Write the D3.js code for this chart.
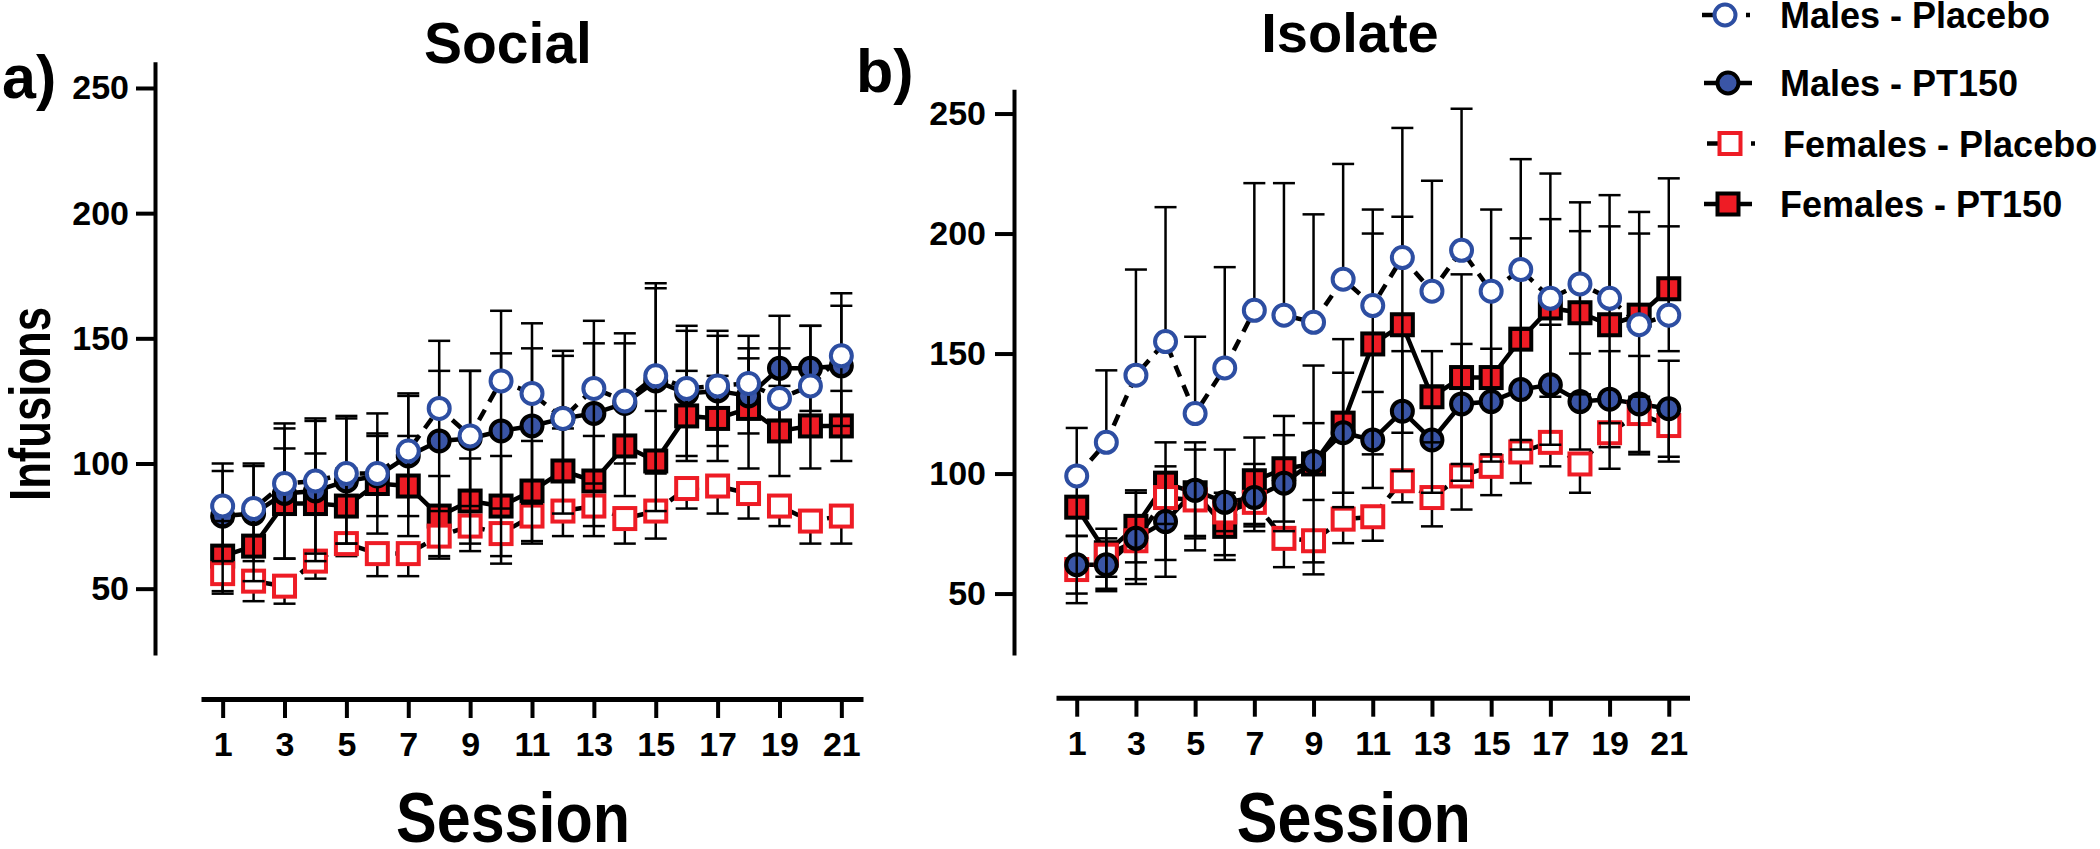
<!DOCTYPE html>
<html>
<head>
<meta charset="utf-8">
<script src="https://cdn.jsdelivr.net/npm/d3@7"></script>
<style>
  html, body { margin: 0; padding: 0; background: #fff; }
  svg { display: block; font-family: Arial, "Liberation Sans", Helvetica, sans-serif; font-weight: bold; }
</style>
</head>
<body>
<svg id="chart" width="2100" height="849"></svg>
<script>
'use strict';

// ---- data -------------------------------------------------------------
var sessions = d3.range(1, 22);
var sessionTicks = [1, 3, 5, 7, 9, 11, 13, 15, 17, 19, 21];
var infusionTicks = [50, 100, 150, 200, 250];
var seriesNames = ['Males - Placebo', 'Males - PT150', 'Females - Placebo', 'Females - PT150'];

// a) Social
var socialMalePlacebo = [83, 82, 92, 93, 96, 96, 105, 122, 111, 133, 128, 118, 130, 125, 135, 130, 131, 132, 126, 131, 143];
var socialMalePlaceboSem = [17, 18, 24, 25, 23, 24, 23, 27, 26, 28, 28, 27, 27, 27, 37, 25, 22, 19, 20, 24, 25];
var socialMalePT150 = [79, 80, 88, 89, 93, 95, 103, 109, 110, 113, 115, 118, 120, 124, 133, 128, 129, 127, 138, 138, 139];
var socialMalePT150Sem = [18, 19, 26, 28, 25, 16, 24, 28, 27, 31, 31, 25, 28, 24, 37, 25, 22, 15, 21, 17, 24];
var socialFemalePlacebo = [56, 53, 51, 61, 68, 64, 64, 71, 75, 72, 79, 81, 83, 78, 81, 90, 91, 88, 83, 77, 79];
var socialFemalePlaceboSem = [8, 8, 7, 7, 5, 9, 9, 9, 10, 12, 11, 10, 12, 10, 11, 8, 11, 10, 8, 9, 11];
var socialFemalePT150 = [63, 67, 84, 84, 83, 92, 91, 79, 85, 83, 89, 97, 93, 107, 101, 119, 118, 122, 113, 115, 115];
var socialFemalePT150Sem = [14, 14, 22, 20, 15, 20, 20, 16, 17, 20, 20, 17, 18, 20, 20, 18, 17, 24, 18, 17, 14];

// b) Isolate
var isolateMalePlacebo = [99, 113, 141, 155, 125, 144, 168, 166, 163, 181, 170, 190, 176, 193, 176, 185, 173, 179, 173, 162, 166];
var isolateMalePlaceboSem = [20, 30, 44, 56, 32, 42, 53, 55, 45, 48, 40, 54, 46, 59, 34, 46, 52, 34, 43, 47, 57];
var isolateMalePT150 = [62, 62, 73, 80, 93, 88, 90, 96, 105, 117, 114, 126, 114, 129, 130, 135, 137, 130, 131, 129, 127];
var isolateMalePT150Sem = [12, 11, 19, 23, 20, 22, 14, 20, 16, 25, 20, 25, 22, 25, 22, 25, 25, 20, 20, 20, 20];
var isolateFemalePlacebo = [60, 66, 72, 90, 89, 84, 88, 73, 72, 81, 82, 97, 90, 99, 103, 109, 113, 104, 117, 125, 120];
var isolateFemalePlaceboSem = [14, 14, 16, 26, 21, 8, 10, 12, 14, 10, 10, 9, 12, 14, 12, 13, 10, 12, 15, 17, 15];
var isolateFemalePT150 = [86, 67, 78, 96, 92, 78, 97, 102, 104, 121, 154, 162, 132, 140, 140, 156, 169, 167, 162, 166, 177];
var isolateFemalePT150Sem = [12, 10, 15, 17, 18, 14, 18, 22, 41, 35, 46, 45, 19, 43, 35, 42, 37, 34, 41, 34, 26];

// ---- styles -----------------------------------------------------------
var BLUE_LINE = '#2d4ea2';
var BLUE_FILL = '#3a55a6';
var RED = '#ee1c25';
var LINE_W = 4.5;
var DASH = '12,9';

var styles = {
  malePlacebo: {shape: 'circle', fill: '#fff', stroke: BLUE_LINE, dash: DASH, bars: 'up'},
  malePT150: {shape: 'circle', fill: BLUE_FILL, stroke: '#000', dash: null, bars: 'both'},
  femalePlacebo: {shape: 'square', fill: '#fff', stroke: RED, dash: DASH, bars: 'down'},
  femalePT150: {shape: 'square', fill: RED, stroke: '#000', dash: null, bars: 'both'}
};

var svg = d3.select('#chart');

function series(key, values, sem) {
  return {key: key, style: styles[key], points: sessions.map(function (s, i) {
    return {s: s, v: values[i], e: sem[i]};
  })};
}

var panels = [
  {
    letter: 'a)', letterX: 2, letterY: 98,
    title: 'Social', titleX: 508, titleY: 63, titleSize: 57,
    x0: 201, x1: 863, xAxisY: 699,
    yAxisX: 155, yTop: 61.7, yBottom: 655, yMin: 23.5, yMax: 260.5, yPad: 7,
    series: {
      malePlacebo: series('malePlacebo', socialMalePlacebo, socialMalePlaceboSem),
      malePT150: series('malePT150', socialMalePT150, socialMalePT150Sem),
      femalePlacebo: series('femalePlacebo', socialFemalePlacebo, socialFemalePlaceboSem),
      femalePT150: series('femalePT150', socialFemalePT150, socialFemalePT150Sem)
    }
  },
  {
    letter: 'b)', letterX: 856, letterY: 92,
    title: 'Isolate', titleX: 1350, titleY: 52, titleSize: 56,
    x0: 1056, x1: 1689.5, xAxisY: 697.7,
    yAxisX: 1014, yTop: 89.3, yBottom: 655, yMin: 24.4, yMax: 260.1, yPad: 9,
    series: {
      malePlacebo: series('malePlacebo', isolateMalePlacebo, isolateMalePlaceboSem),
      malePT150: series('malePT150', isolateMalePT150, isolateMalePT150Sem),
      femalePlacebo: series('femalePlacebo', isolateFemalePlacebo, isolateFemalePlaceboSem),
      femalePT150: series('femalePT150', isolateFemalePT150, isolateFemalePT150Sem)
    }
  }
];

function drawMarkers(g, ser, x, y) {
  var st = ser.style;
  if (st.shape === 'circle') {
    g.append('g').selectAll('circle').data(ser.points).enter().append('circle')
      .attr('cx', function (d) { return x(d.s); })
      .attr('cy', function (d) { return y(d.v); })
      .attr('r', 10.5)
      .attr('fill', st.fill).attr('stroke', st.stroke).attr('stroke-width', 4);
  } else {
    g.append('g').selectAll('rect').data(ser.points).enter().append('rect')
      .attr('x', function (d) { return x(d.s) - 10.5; })
      .attr('y', function (d) { return y(d.v) - 10.5; })
      .attr('width', 21).attr('height', 21)
      .attr('fill', st.fill).attr('stroke', st.stroke).attr('stroke-width', 4);
  }
}

function drawBars(g, ser, x, y) {
  var st = ser.style;
  var up = st.bars !== 'down' ? 1 : 0;
  var down = st.bars !== 'up' ? 1 : 0;
  var bg = g.append('g').attr('stroke', '#000').attr('stroke-width', 2.5);
  var bar = bg.selectAll('g').data(ser.points).enter().append('g');
  bar.append('line')
    .attr('x1', function (d) { return x(d.s); })
    .attr('x2', function (d) { return x(d.s); })
    .attr('y1', function (d) { return y(d.v - down * d.e); })
    .attr('y2', function (d) { return y(d.v + up * d.e); });
  if (up) {
    bar.append('line')
      .attr('x1', function (d) { return x(d.s) - 11; })
      .attr('x2', function (d) { return x(d.s) + 11; })
      .attr('y1', function (d) { return y(d.v + d.e); })
      .attr('y2', function (d) { return y(d.v + d.e); });
  }
  if (down) {
    bar.append('line')
      .attr('x1', function (d) { return x(d.s) - 11; })
      .attr('x2', function (d) { return x(d.s) + 11; })
      .attr('y1', function (d) { return y(d.v - d.e); })
      .attr('y2', function (d) { return y(d.v - d.e); });
  }
}

function drawPanel(p) {
  var g = svg.append('g');
  var x = d3.scaleLinear().domain([0.3, 21.7]).range([p.x0, p.x1]);
  var y = d3.scaleLinear().domain([p.yMin, p.yMax]).range([p.yBottom, p.yTop]);

  // axes
  var yAxis = g.append('g').attr('transform', 'translate(' + p.yAxisX + ',0)')
    .call(d3.axisLeft(y).tickValues(infusionTicks).tickSize(19).tickPadding(p.yPad).tickSizeOuter(0));
  var xAxis = g.append('g').attr('transform', 'translate(0,' + p.xAxisY + ')')
    .call(d3.axisBottom(x).tickValues(sessionTicks).tickSize(19).tickPadding(14).tickSizeOuter(0));
  [yAxis, xAxis].forEach(function (ax) {
    ax.select('.domain').attr('stroke', '#000').attr('stroke-width', 4);
    ax.selectAll('.tick line').attr('stroke', '#000').attr('stroke-width', 4);
    ax.selectAll('.tick text').attr('fill', '#000')
      .style('font-size', '34px').style('font-weight', 'bold')
      .style('font-family', 'Arial, "Liberation Sans", sans-serif');
  });
  xAxis.select('.domain').attr('stroke-width', 5);

  // titles
  g.append('text').attr('x', p.titleX).attr('y', p.titleY).attr('text-anchor', 'middle')
    .style('font-size', p.titleSize + 'px').text(p.title);
  g.append('text').attr('x', p.letterX).attr('y', p.letterY)
    .style('font-size', '61px').text(p.letter);
  // condensed like the original figure
  g.append('text').attr('x', (p.x0 + p.x1) / 2 - 19).attr('y', 842).attr('text-anchor', 'middle')
    .attr('textLength', 234).attr('lengthAdjust', 'spacingAndGlyphs')
    .style('font-size', '70px').text('Session');

  // connecting lines
  var line = d3.line().x(function (d) { return x(d.s); }).y(function (d) { return y(d.v); });
  ['femalePT150', 'femalePlacebo', 'malePT150', 'malePlacebo'].forEach(function (k) {
    var ser = p.series[k];
    g.append('path').datum(ser.points).attr('d', line)
      .attr('fill', 'none').attr('stroke', '#000').attr('stroke-width', LINE_W)
      .attr('stroke-dasharray', ser.style.dash);
  });

  drawMarkers(g, p.series.femalePT150, x, y);
  drawBars(g, p.series.femalePlacebo, x, y);
  drawMarkers(g, p.series.femalePlacebo, x, y);
  drawMarkers(g, p.series.malePT150, x, y);
  drawBars(g, p.series.femalePT150, x, y);
  drawBars(g, p.series.malePT150, x, y);
  drawBars(g, p.series.malePlacebo, x, y);
  drawMarkers(g, p.series.malePlacebo, x, y);
}

panels.forEach(drawPanel);

// y axis title
svg.append('text').attr('transform', 'translate(50,404) rotate(-90)')
  .attr('text-anchor', 'middle')
  .attr('textLength', 194).attr('lengthAdjust', 'spacingAndGlyphs')
  .style('font-size', '58px').text('Infusions');

// legend
var legendKeys = ['malePlacebo', 'malePT150', 'femalePlacebo', 'femalePT150'];
var legendRows = [15, 83, 143.5, 204];
var legend = svg.append('g');
legendKeys.forEach(function (k, i) {
  var st = styles[k];
  var cy = legendRows[i];
  var cx = i === 2 ? 1730 : (i === 0 ? 1725 : 1728);
  var row = legend.append('g');
  if (st.dash) {
    row.append('line').attr('x1', cx - 23).attr('x2', cx - 12).attr('y1', cy).attr('y2', cy)
      .attr('stroke', '#000').attr('stroke-width', LINE_W);
    row.append('line').attr('x1', cx + 21).attr('x2', cx + 25).attr('y1', cy).attr('y2', cy)
      .attr('stroke', '#000').attr('stroke-width', LINE_W);
  } else {
    row.append('line').attr('x1', cx - 24).attr('x2', cx + 24).attr('y1', cy).attr('y2', cy)
      .attr('stroke', '#000').attr('stroke-width', LINE_W);
  }
  if (st.shape === 'circle') {
    row.append('circle').attr('cx', cx).attr('cy', cy).attr('r', 10.5)
      .attr('fill', st.fill).attr('stroke', st.stroke).attr('stroke-width', 4);
  } else {
    row.append('rect').attr('x', cx - 10.5).attr('y', cy - 10.5).attr('width', 21).attr('height', 21)
      .attr('fill', st.fill).attr('stroke', st.stroke).attr('stroke-width', 4);
  }
  row.append('text').attr('x', i === 2 ? 1783 : 1780).attr('y', cy + 13)
    .style('font-size', '36px').text(seriesNames[i]);
});
</script>
</body>
</html>
